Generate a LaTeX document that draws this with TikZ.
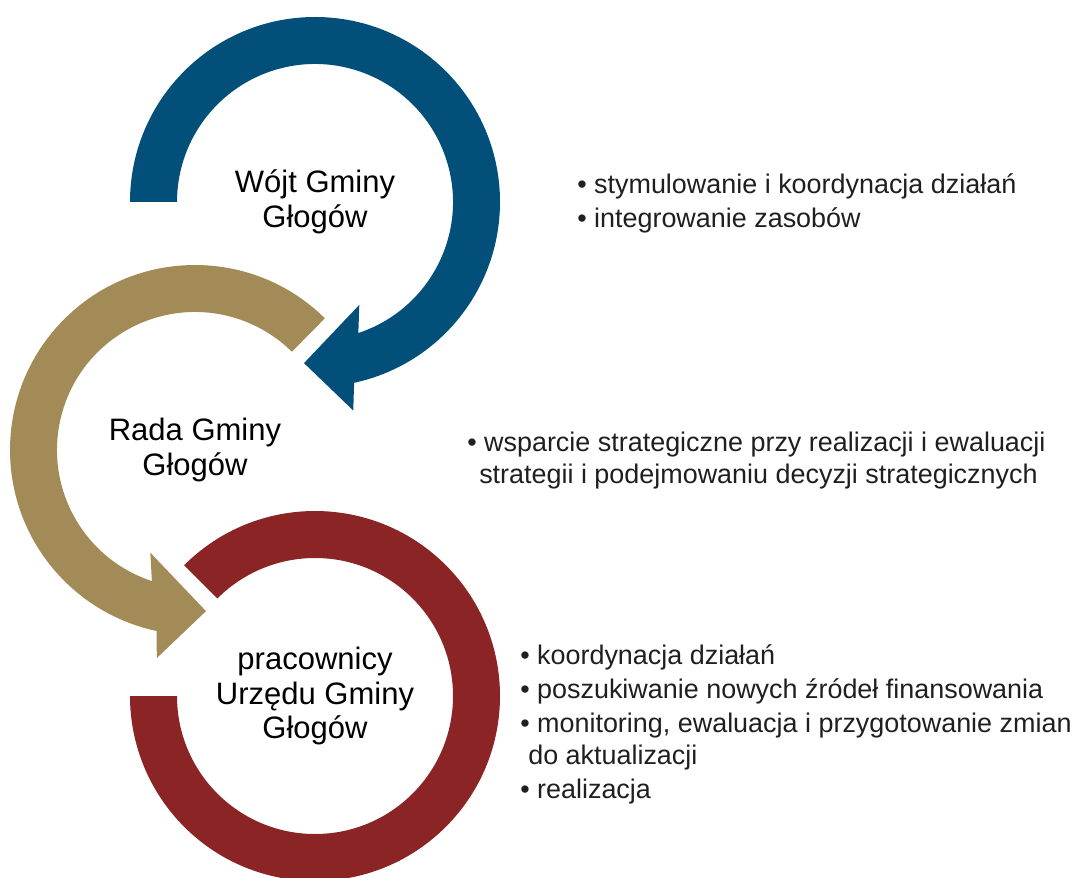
\documentclass[tikz,border=0pt]{standalone}
\usepackage{fontspec}
\setmainfont{Liberation Sans}
\definecolor{wojtblue}{RGB}{2,80,122}
\definecolor{radatan}{RGB}{163,139,88}
\definecolor{urzadred}{RGB}{139,36,36}

\begin{document}
\begin{tikzpicture}
[
    x=0.75pt, y=0.75pt,
    ring label/.style={align=center, inner sep=0pt, font=\fontsize{23.25pt}{26pt}\selectfont},
    task list/.style={align=left, anchor=west, inner sep=0pt, text=black!88, font=\fontsize{20.2pt}{24pt}\selectfont}
]
    \useasboundingbox (0,0) rectangle (1073,-877);

    \coordinate (wojt) at (315,-202);
    \coordinate (rada) at (195,-450);
    \coordinate (urzad) at (315,-696);

    \begin{scope}[shift={(urzad)}]
        \fill [urzadred] (135:185) arc [start angle=135, end angle=-180, radius=185]
            -- (180:138) arc [start angle=-180, end angle=135, radius=138] -- cycle;
    \end{scope}

    \begin{scope}[shift={(wojt)}]
        \fill [wojtblue] (180:185) arc [start angle=180, end angle=-77.8, radius=185]
            -- (-79.6:212) -- (-93.9:161.5) -- (-66.7:112) -- (-71.7:138)
            arc [start angle=-71.7, end angle=180, radius=138] -- cycle;
    \end{scope}

    \begin{scope}[shift={(rada)}]
        \fill [radatan] (45.4:185) arc [start angle=45.4, end angle=258, radius=185]
            -- (259.6:211.5) -- (273.9:161.5) -- (246.5:112) -- (251.8:138)
            arc [start angle=251.8, end angle=45.4, radius=138] -- cycle;
    \end{scope}

    \node [ring label] (wojt label) at (wojt) {Wójt Gminy\\Głogów};
    \node [ring label] (rada label) at (rada) {Rada Gminy\\Głogów};
    \node [ring label] (urzad label) at (urzad) {pracownicy\\Urzędu Gminy\\Głogów};

    \node [task list] (wojt tasks) at (577,-203) {• stymulowanie i koordynacja działań\\[1.5pt]• integrowanie zasobów};
    \node [task list] (rada tasks) at (467,-461) {• wsparcie strategiczne przy realizacji i ewaluacji\\\hspace*{9pt}strategii i podejmowaniu decyzji strategicznych};
    \node [task list] (urzad tasks) at (520,-724) {• koordynacja działań\\[1.5pt]• poszukiwanie nowych źródeł finansowania\\[1.5pt]• monitoring, ewaluacja i przygotowanie zmian\\\hspace*{6pt}do aktualizacji\\[1.5pt]• realizacja};
\end{tikzpicture}
\end{document}
